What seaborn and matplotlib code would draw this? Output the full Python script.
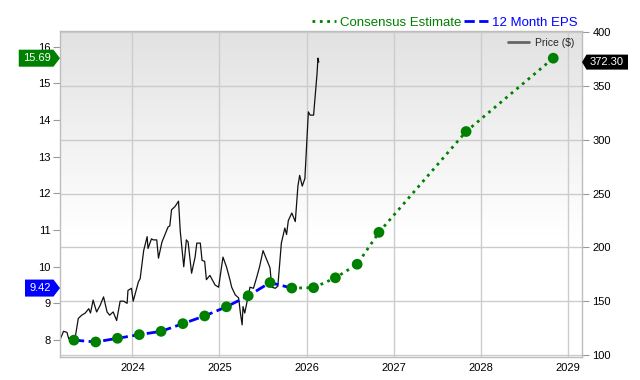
import numpy as np
import pandas as pd
import matplotlib
matplotlib.use("Agg")
import matplotlib.pyplot as plt
import seaborn as sns
from matplotlib.lines import Line2D
from matplotlib.patches import Polygon

# ---------------- data ----------------
eps_actual_t = [2023.33, 2023.58, 2023.83, 2024.08, 2024.33, 2024.58, 2024.83,
                2025.08, 2025.33, 2025.58, 2025.83]
eps_actual = [8.00, 7.95, 8.05, 8.15, 8.24, 8.45, 8.66, 8.91, 9.21, 9.57, 9.42]

est_t = [2025.83, 2026.08, 2026.33, 2026.58, 2026.83, 2027.83, 2028.83]
est_vals = [9.42, 9.43, 9.70, 10.07, 10.94, 13.69, 15.69]

price_t = [2023.17, 2023.21, 2023.25, 2023.27, 2023.31, 2023.34, 2023.38, 2023.42, 2023.46, 2023.50,
           2023.52, 2023.55, 2023.59, 2023.63, 2023.67, 2023.71, 2023.74, 2023.78, 2023.82, 2023.86,
           2023.90, 2023.94, 2023.95, 2023.99, 2024.01, 2024.07, 2024.09, 2024.13, 2024.17, 2024.18,
           2024.22, 2024.24, 2024.28, 2024.30, 2024.34, 2024.38, 2024.41, 2024.43, 2024.45, 2024.49,
           2024.53, 2024.55, 2024.59, 2024.62, 2024.64, 2024.68, 2024.72, 2024.74, 2024.78, 2024.80,
           2024.83, 2024.85, 2024.89, 2024.95, 2024.99, 2025.04, 2025.08, 2025.12, 2025.14, 2025.18,
           2025.22, 2025.24, 2025.26, 2025.27, 2025.29, 2025.35, 2025.39, 2025.43, 2025.46, 2025.50,
           2025.54, 2025.58, 2025.60, 2025.64, 2025.67, 2025.71, 2025.75, 2025.77, 2025.79, 2025.83,
           2025.87, 2025.90, 2025.92, 2025.95, 2025.98, 2026.02, 2026.04, 2026.08, 2026.12, 2026.13,
           2026.14]
price = [114, 122, 121, 115, 117, 114, 134, 137, 139, 143,
         139, 151, 140, 146, 154, 140, 137, 140, 132, 150,
         150, 148, 160, 162, 150, 168, 171, 197, 210, 199,
         208, 207, 207, 190, 205, 213, 219, 220, 235, 238,
         243, 215, 182, 207, 205, 176, 191, 204, 204, 188,
         187, 170, 174, 165, 163, 191, 182, 170, 163, 156,
         153, 139, 128, 145, 139, 163, 162, 173, 182, 197,
         189, 181, 163, 162, 164, 204, 218, 212, 225, 232,
         224, 257, 267, 257, 264, 326, 323, 323, 362, 376,
         372.3]

year_ticks = [2024, 2025, 2026, 2027, 2028, 2029]
eps_ticks = [8, 9, 10, 11, 12, 13, 14, 15, 16]
price_ticks = [100, 150, 200, 250, 300, 350, 400]

est_label = "15.69"
eps_label = "9.42"
price_label = "372.30"
legend_labels = ["Consensus Estimate", "12 Month EPS"]
price_legend_label = "Price ($)"

# ---------------- style ----------------
sns.set_theme(style="white")
plt.rcParams['font.family'] = ['Liberation Sans', 'DejaVu Sans']

GREEN = "#008000"
BLUE = "#0000ff"
GRID = "#cccccc"
SPINE = "#bdbdbd"
W, H = 640, 380

fig = plt.figure(figsize=(6.4, 3.8), dpi=100)
fig.patch.set_facecolor("white")
L, R, B, T = 60 / W, 582 / W, 1 - 357 / H, 1 - 30.7 / H
ax = fig.add_axes([L, B, R - L, T - B])     # EPS (left)
ax2 = ax.twinx()                            # Price (right)
ax.set_zorder(ax2.get_zorder() + 1)
ax.patch.set_visible(False)

# background gradient on price axis
n = 256
frac = np.linspace(0, 1, n)
v = 0.885 + (1 - 0.885) * np.clip(frac / 0.62, 0, 1)
grad = np.repeat(v[:, None, None], 3, axis=2) * np.ones((n, 2, 3))
ax2.imshow(grad, extent=[0, 1, 0, 1], transform=ax2.transAxes, aspect="auto",
           zorder=0, origin="upper", interpolation="bilinear")

# grids
for pt in price_ticks:
    ax2.axhline(pt, color=GRID, lw=1, zorder=1)
for yt in year_ticks:
    ax2.axvline(yt, color=GRID, lw=1, zorder=1)

# price line
sns.lineplot(x=price_t, y=price, ax=ax2, color="#111111", lw=0.9,
             estimator=None, sort=False, zorder=3)

# EPS lines
sns.lineplot(x=eps_actual_t, y=eps_actual, ax=ax, color=BLUE, lw=2,
             linestyle="--", estimator=None, sort=False, zorder=3)
sns.lineplot(x=est_t, y=est_vals, ax=ax, color=GREEN, lw=2,
             linestyle=":", estimator=None, sort=False, zorder=3)
sns.scatterplot(x=eps_actual_t + est_t[1:], y=eps_actual + est_vals[1:], ax=ax,
                color=GREEN, s=60, edgecolor="none", zorder=4)

# limits
ax.set_xlim(2023.17, 2029.16)
ax.set_ylim(7.54, 16.44)
ax2.set_ylim(98.1, 401.5)
ax2.set_xlim(2023.17, 2029.16)

# ticks
ax.set_xticks(year_ticks)
ax.set_xticklabels([str(y) for y in year_ticks])
ax.tick_params(axis="x", bottom=True, length=0, labelsize=8, pad=4, colors="black")
ax.set_yticks(eps_ticks)
ax.set_yticklabels([str(t) for t in eps_ticks])
ax.tick_params(axis="y", left=True, length=5, width=0.8, color="#999999",
               labelsize=8, pad=2, labelcolor="black")
ax2.set_yticks(price_ticks)
ax2.set_yticklabels([str(t) for t in price_ticks])
ax2.tick_params(axis="y", right=True, length=5, width=0.8, color="#999999",
                labelsize=8, pad=2.5, labelcolor="black")
ax.set_xlabel("")
ax.set_ylabel("")
ax2.set_ylabel("")

for a in (ax, ax2):
    for s in a.spines.values():
        s.set_color(SPINE)
        s.set_linewidth(1)
for s in ax2.spines.values():
    s.set_visible(False)

# legends
handles = [Line2D([], [], color=GREEN, ls=":", lw=2),
           Line2D([], [], color=BLUE, ls="--", lw=2)]
leg = fig.legend(handles, legend_labels, loc="center right",
                 bbox_to_anchor=(584 / W, 1 - 22.5 / H), ncol=2, frameon=False,
                 fontsize=9.5, handlelength=1.8, handletextpad=0.3,
                 columnspacing=0.2, borderpad=0, labelcolor="linecolor")
ax.legend([Line2D([], [], color="#666666", lw=2)], [price_legend_label],
          loc="upper right", frameon=False, fontsize=7.5, handlelength=2.0,
          handletextpad=0.6, borderaxespad=0.3)

# value tags
renderer = fig.canvas.get_renderer()
x_left = ax.transAxes.transform((0, 0))[0]
x_right = ax.transAxes.transform((1, 0))[0]


def to_fig(pts):
    return [(px / W, py / H) for px, py in pts]


def left_tag(val, label, color):
    yc = ax.transData.transform((2024, val))[1]
    xr = x_left - 6.5
    t = fig.text((xr - 3) / W, yc / H, label, color="white", fontsize=8,
                 ha="right", va="center", zorder=11)
    bb = t.get_window_extent(renderer)
    xl = bb.x0 - 4
    h = 17
    poly = Polygon(to_fig([(xl, yc - h / 2), (xr, yc - h / 2), (x_left, yc),
                           (xr, yc + h / 2), (xl, yc + h / 2)]),
                   closed=True, transform=fig.transFigure, facecolor=color,
                   edgecolor="none", zorder=10)
    fig.patches.append(poly)


def right_tag(val, label, color):
    yc = ax2.transData.transform((2024, val))[1]
    xl = x_right + 4.5
    t = fig.text((xl + 3.5) / W, yc / H, label, color="white", fontsize=8,
                 ha="left", va="center", zorder=11)
    bb = t.get_window_extent(renderer)
    xr = bb.x1 + 4
    h = 15
    poly = Polygon(to_fig([(xr, yc - h / 2), (xl, yc - h / 2), (x_right, yc),
                           (xl, yc + h / 2), (xr, yc + h / 2)]),
                   closed=True, transform=fig.transFigure, facecolor=color,
                   edgecolor="none", zorder=10)
    fig.patches.append(poly)


left_tag(est_vals[-1], est_label, GREEN)
left_tag(eps_actual[-1], eps_label, BLUE)
right_tag(price[-1], price_label, "black")

fig.savefig("out.png", dpi=100)
